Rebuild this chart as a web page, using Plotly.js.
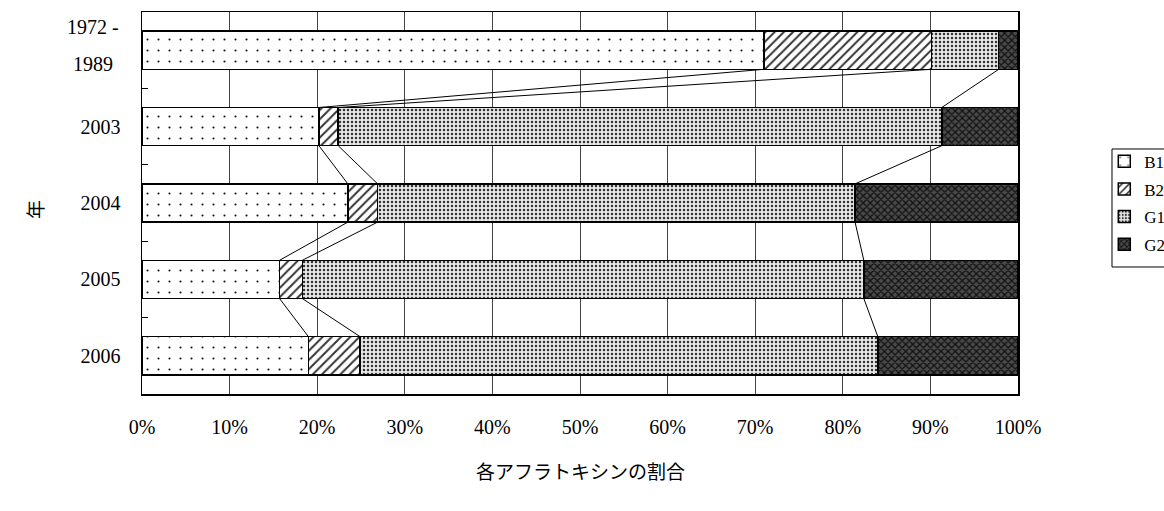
<!DOCTYPE html>
<html><head><meta charset="utf-8">
<script src="https://cdn.plot.ly/plotly-3.0.1.min.js"></script>
<style>html,body{margin:0;padding:0;background:#fff}#chart{width:1164px;height:511px}</style>
</head><body><div id="chart"></div>
<script>
// Data (percent shares)
const years = ["1972 - 1989", "2003", "2004", "2005", "2006"];
const B1 = [71.0, 20.2, 23.5, 15.7, 19.0];
const B2 = [19.1, 2.2, 3.4, 2.6, 5.9];
const G1 = [7.7, 68.9, 54.5, 64.1, 59.1];
const G2 = [2.2, 8.7, 18.6, 17.6, 16.0];
const seriesNames = ["B1", "B2", "G1", "G2"];
const xTicks = [0,10,20,30,40,50,60,70,80,90,100];

const pos = years.map((_, i) => i);
const serif = "Liberation Serif, DejaVu Serif, serif";
const patterns = [
  {shape: ".", bgcolor: "#fff", fgcolor: "#111", size: 11, solidity: 0.03},
  {shape: "/", bgcolor: "#fff", fgcolor: "#333", size: 6.5, solidity: 0.3},
  {shape: ".", bgcolor: "#e8e8e8", fgcolor: "#333", size: 4, solidity: 0.3},
  {shape: "x", bgcolor: "#4a4a4a", fgcolor: "#111", size: 5, solidity: 0.45}
];
const allSeries = [B1, B2, G1, G2];
const traces = allSeries.map((vals, k) => ({
  type: "bar", orientation: "h", name: seriesNames[k], legendgroup: seriesNames[k],
  x: vals, y: pos, width: 0.5,
  marker: {color: patterns[k].bgcolor, pattern: patterns[k], line: {color: "#000", width: 1.5}},
  hoverinfo: "x+name"
}));

// Series lines connecting cumulative boundaries of adjacent bars
const cum = pos.map(i => {
  const a = B1[i], b = a + B2[i], c = b + G1[i];
  return [a, b, c];
});
for (let i = 0; i < pos.length - 1; i++) {
  for (let k = 0; k < 3; k++) {
    traces.push({
      type: "scatter", mode: "lines", showlegend: false, hoverinfo: "skip",
      x: [cum[i][k], cum[i + 1][k]], y: [pos[i] + 0.25, pos[i + 1] - 0.25],
      line: {color: "#000", width: 1}
    });
  }
}

// first category label split into two lines (drawn as annotations)
const firstParts = years[0].split(" - ");
const tickText = years.map((t, i) => i === 0 ? "" : t);

const layout = {
  width: 1164, height: 511,
  margin: {l: 142, r: 146, t: 12, b: 117, autoexpand: false},
  paper_bgcolor: "#fff", plot_bgcolor: "#fff",
  barmode: "stack",
  font: {family: serif, size: 20, color: "#000"},
  showlegend: true,
  legend: {x: 1.0985, y: 0.655, xanchor: "left", yanchor: "top", borderwidth: 0,
           bgcolor: "rgba(0,0,0,0)", traceorder: "grouped", tracegroupgap: 2.5,
           font: {family: serif, size: 17, color: "#000"}, itemwidth: 30},
  xaxis: {range: [0, 100], tickvals: xTicks, ticktext: xTicks.map(v => v + "%"),
          showgrid: true, gridcolor: "#444", gridwidth: 1, zeroline: false,
          showline: true, linecolor: "#000", linewidth: 1.5, mirror: true,
          ticks: "", ticklabelstandoff: 14, tickfont: {family: serif, size: 20}},
  yaxis: {range: [4.5, -0.5], tickvals: pos, ticktext: tickText,
          showgrid: false, zeroline: false, showline: true, linecolor: "#000", linewidth: 1.5, mirror: true,
          ticks: "", ticklabelstandoff: 16, tickfont: {family: serif, size: 20},
          minor: {tickvals: [0.5, 1.5, 2.5, 3.5], ticks: "inside", ticklen: 6, tickcolor: "#000", tickwidth: 1, showgrid: false}},
  shapes: [
    {type: "rect", xref: "paper", yref: "paper", x0: 1.1073, x1: 1.25, y0: 0.3325, y1: 0.6414,
     line: {color: "#000", width: 1}, fillcolor: "rgba(0,0,0,0)", layer: "above"}
  ],
  annotations: [
    {text: firstParts[0] + " -", xref: "paper", yref: "y", x: -0.056, y: pos[0] - 0.31,
     xanchor: "center", yanchor: "middle", showarrow: false, font: {family: serif, size: 20, color: "#000"}},
    {text: firstParts[1], xref: "paper", yref: "y", x: -0.056, y: pos[0] + 0.18,
     xanchor: "center", yanchor: "middle", showarrow: false, font: {family: serif, size: 20, color: "#000"}},
    {text: "各アフラトキシンの割合", xref: "paper", yref: "paper", x: 0.5, y: -0.199,
     xanchor: "center", yanchor: "middle", showarrow: false,
     font: {family: "Noto Sans CJK JP, sans-serif", size: 19, color: "#000"}},
    {text: "年", xref: "paper", yref: "paper", x: -0.122, y: 0.482, textangle: -90,
     xanchor: "center", yanchor: "middle", showarrow: false,
     font: {family: "Noto Sans CJK JP, sans-serif", size: 19, color: "#000"}}
  ]
};
Plotly.newPlot("chart", traces, layout, {displayModeBar: false, staticPlot: true});
</script></body></html>
